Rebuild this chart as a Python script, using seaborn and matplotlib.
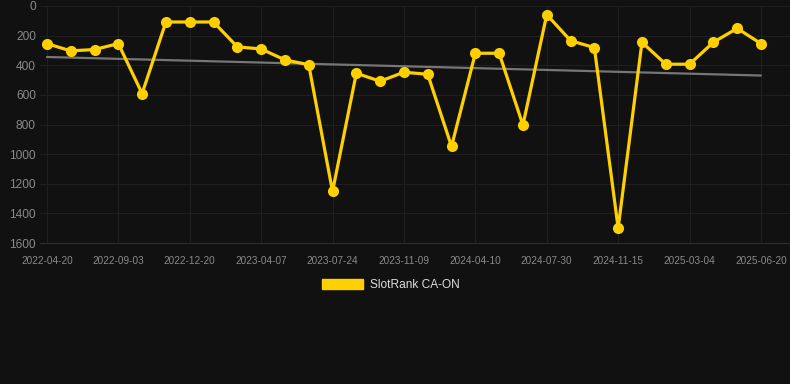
import numpy as np
import pandas as pd
import seaborn as sns
import matplotlib.pyplot as plt
from matplotlib.patches import Patch

# rank values (lower is better), one point per snapshot
ranks = [254, 303, 294, 254, 591, 108, 108, 108, 276, 290, 364, 396, 1252, 454, 508,
         447, 461, 948, 319, 319, 804, 58, 234, 281, 1499, 245, 393, 393, 245, 151, 254]
tick_labels = ['2022-04-20', '2022-09-03', '2022-12-20', '2023-04-07', '2023-07-24', '2023-11-09',
               '2024-04-10', '2024-07-30', '2024-11-15', '2025-03-04', '2025-06-20']
series_name = 'SlotRank CA-ON'

df = pd.DataFrame({'idx': np.arange(len(ranks)), 'rank': ranks})

sns.set_style('dark')
plt.rcParams['font.family'] = ['Liberation Sans', 'DejaVu Sans']

bg = '#111111'
yellow = '#FFD000'

fig = plt.figure(figsize=(7.9, 3.84), dpi=100, facecolor=bg)
ax = fig.add_axes([40 / 790, 1 - 243 / 384, 750 / 790, 237 / 384])
ax.set_facecolor(bg)

sns.regplot(x='idx', y='rank', data=df, scatter=False, ci=None, truncate=True,
            line_kws={'color': '#767676', 'linewidth': 1.6}, ax=ax)
sns.lineplot(x='idx', y='rank', data=df, color=yellow, linewidth=2.3, marker='o',
             markersize=8, markeredgewidth=0, ax=ax)

ax.set_ylim(1600, 0)
ax.set_xlim(-0.29, 31.22)
ax.set_yticks(range(0, 1601, 200))
ax.set_xticks(range(0, len(ranks), 3))
ax.set_xticklabels(tick_labels)
ax.tick_params(axis='y', labelsize=8.6, colors='#8a8a8a', length=0, pad=3)
ax.tick_params(axis='x', labelsize=7.2, colors='#8a8a8a', length=0, pad=9)
ax.grid(True, color='#1f1f1f', linewidth=0.8)
for s in ['top', 'right', 'left']:
    ax.spines[s].set_visible(False)
ax.spines['bottom'].set_color('#2e2e2e')
ax.spines['bottom'].set_linewidth(0.8)
ax.set_xlabel('')
ax.set_ylabel('')

handle = Patch(facecolor=yellow, edgecolor=yellow)
leg = fig.legend([handle], [series_name], loc='center', bbox_to_anchor=(0.495, 1 - 285 / 384),
                 frameon=False, fontsize=8.6, handlelength=3.45, handleheight=0.95,
                 handletextpad=0.6)
for t in leg.get_texts():
    t.set_color('#dddddd')

fig.savefig('out.png', dpi=100, facecolor=bg)
